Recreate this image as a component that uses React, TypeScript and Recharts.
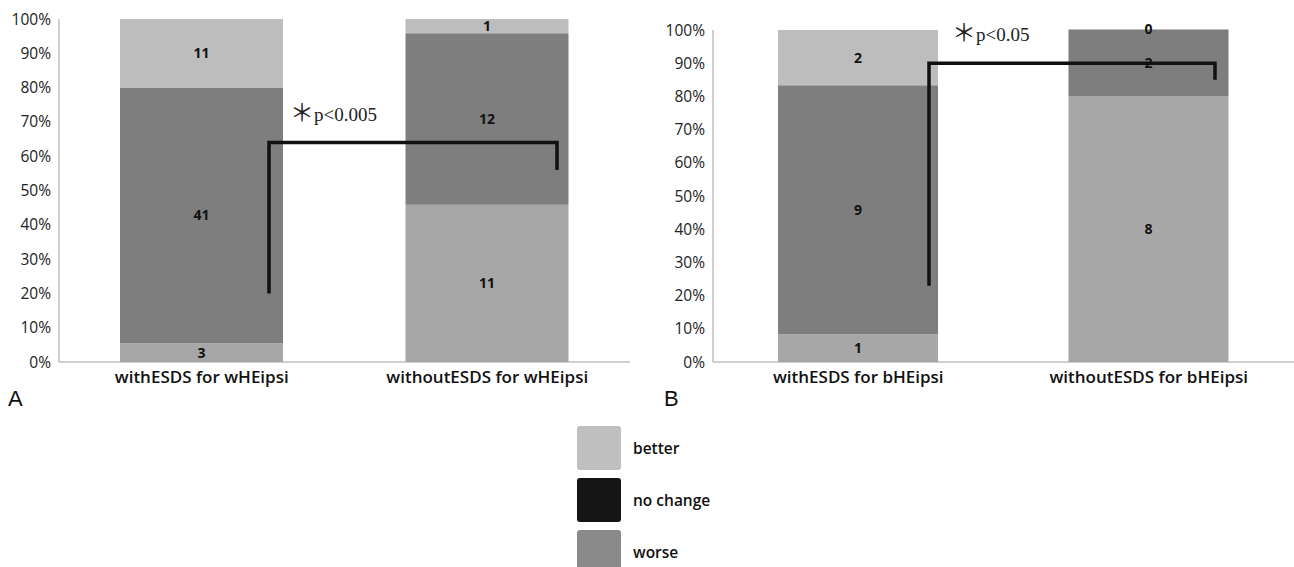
import React from "react"
import { BarChart, Bar, XAxis, YAxis, LabelList } from "recharts"

// panel A
const categoriesA = ["withESDS for wHEipsi", "withoutESDS for wHEipsi"]
const worseA = [3, 11]
const noChangeA = [41, 12]
const betterA = [11, 1]

// panel B
const categoriesB = ["withESDS for bHEipsi", "withoutESDS for bHEipsi"]
const worseB = [1, 8]
const noChangeB = [9, 2]
const betterB = [2, 0]

const yTicks = [0, 0.1, 0.2, 0.3, 0.4, 0.5, 0.6, 0.7, 0.8, 0.9, 1]

// significance brackets: [start %, bracket %, end %]
const bracketA = [0.2, 0.64, 0.56]
const bracketB = [0.23, 0.9, 0.85]
const pTextA = "p<0.005"
const pTextB = "p<0.05"

const legendItems = [
  { name: "better", color: "#bfbfbf" },
  { name: "no change", color: "#151515" },
  { name: "worse", color: "#8a8a8a" },
]

const COLORS = { worse: "#a7a7a7", noChange: "#7e7e7e", better: "#bdbdbd" }
const FONT = "'Open Sans', 'Liberation Sans', sans-serif"

const buildRows = (cats: string[], w: number[], n: number[], b: number[]) =>
  cats.map((name, i) => ({ name, worse: w[i], noChange: n[i], better: b[i] }))

const PLOT_BOTTOM = 362

function Panel({
  rows,
  width,
  axisWidth,
  top,
  barSize,
}: {
  rows: any[]
  width: number
  axisWidth: number
  top: number
  barSize: number
}) {
  const labelStyle = { fill: "#111", fontSize: 14, fontWeight: 700, fontFamily: FONT }
  return (
    <BarChart
      width={width}
      height={400}
      data={rows}
      stackOffset="expand"
      margin={{ top, right: 0, left: 0, bottom: 8 }}
    >
      <XAxis
        dataKey="name"
        height={30}
        tickLine={false}
        axisLine={{ stroke: "#a0a0a0" }}
        tickMargin={3}
        tick={{ fill: "#111", fontSize: 17, fontWeight: 600, fontFamily: FONT }}
      />
      <YAxis
        width={axisWidth}
        domain={[0, 1]}
        ticks={yTicks}
        tickLine={false}
        axisLine={{ stroke: "#a0a0a0" }}
        tickFormatter={(v: number) => `${Math.round(v * 100)}%`}
        tick={{ fill: "#222", fontSize: 15.5, fontWeight: 500, fontFamily: FONT }}
      />
      <Bar dataKey="worse" stackId="s" fill={COLORS.worse} barSize={barSize} isAnimationActive={false}>
        <LabelList dataKey="worse" position="center" style={labelStyle} />
      </Bar>
      <Bar dataKey="noChange" stackId="s" fill={COLORS.noChange} barSize={barSize} isAnimationActive={false}>
        <LabelList dataKey="noChange" position="center" style={labelStyle} />
      </Bar>
      <Bar
        dataKey="better"
        stackId="s"
        fill={COLORS.better}
        barSize={barSize}
        minPointSize={1}
        isAnimationActive={false}
      >
        <LabelList dataKey="better" position="center" style={labelStyle} />
      </Bar>
    </BarChart>
  )
}

function Bracket({
  vals,
  top,
  x1,
  x2,
  text,
  textX,
  textY,
}: {
  vals: number[]
  top: number
  x1: number
  x2: number
  text: string
  textX: number
  textY: number
}) {
  const y = (p: number) => top + (1 - p) * (PLOT_BOTTOM - top)
  const d = `M${x1},${y(vals[0])} L${x1},${y(vals[1])} L${x2},${y(vals[1])} L${x2},${y(vals[2])}`
  return (
    <g>
      <path d={d} fill="none" stroke="#111" strokeWidth={3.5} />
      <text x={textX} y={textY} fill="#222">
        <tspan fill="#222" fontFamily="'Noto Sans CJK JP', sans-serif" fontSize={24}>
          ＊
        </tspan>
        <tspan fill="#222" fontFamily="'Liberation Serif', serif" fontSize={19}>
          {text}
        </tspan>
      </text>
    </g>
  )
}

export default function App() {
  const rowsA = buildRows(categoriesA, worseA, noChangeA, betterA)
  const rowsB = buildRows(categoriesB, worseB, noChangeB, betterB)
  return (
    <div
      style={{
        position: "absolute",
        left: 0,
        top: 0,
        width: 1294,
        height: 567,
        background: "#fff",
        overflow: "hidden",
        fontFamily: FONT,
      }}
    >
      <div style={{ position: "absolute", left: 0, top: 0 }}>
        <Panel rows={rowsA} width={630} axisWidth={59} top={19} barSize={163} />
      </div>
      <div style={{ position: "absolute", left: 640, top: 0 }}>
        <Panel rows={rowsB} width={654} axisWidth={73} top={30} barSize={160} />
      </div>
      <svg width={1294} height={567} style={{ position: "absolute", left: 0, top: 0, pointerEvents: "none" }}>
        <Bracket vals={bracketA} top={19} x1={269} x2={557} text={pTextA} textX={290} textY={121} />
        <Bracket vals={bracketB} top={30} x1={929} x2={1215} text={pTextB} textX={952} textY={41} />
        <text x={8} y={406} fontFamily="'Liberation Sans', sans-serif" fontSize={22} fill="#111">
          A
        </text>
        <text x={664} y={406} fontFamily="'Liberation Sans', sans-serif" fontSize={22} fill="#111">
          B
        </text>
      </svg>
      <div style={{ position: "absolute", left: 577, top: 422 }}>
        {legendItems.map((it) => (
          <div key={it.name} style={{ display: "flex", alignItems: "center", height: 52 }}>
            <div style={{ width: 44, height: 44, background: it.color, borderRadius: 3 }} />
            <span style={{ marginLeft: 12, fontSize: 15.5, fontWeight: 600, color: "#111" }}>{it.name}</span>
          </div>
        ))}
      </div>
    </div>
  )
}
